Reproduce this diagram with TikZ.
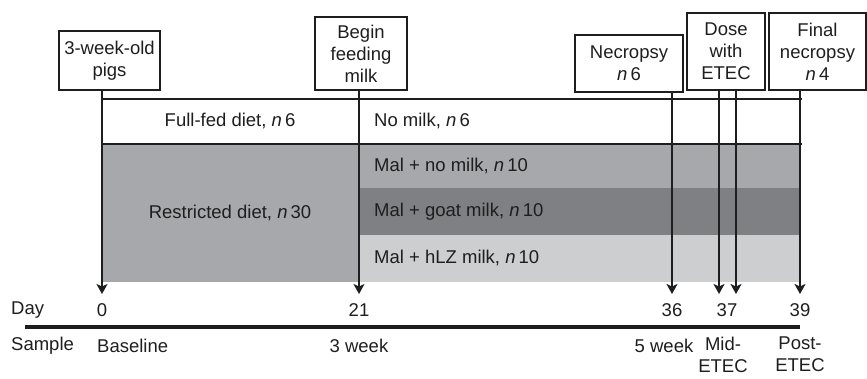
\documentclass[tikz,border=0pt]{standalone}
\usepackage{fontspec}
\setmainfont{Liberation Sans}
\usetikzlibrary{arrows.meta,positioning}
\definecolor{restrgray}{HTML}{A7A8AC}
\definecolor{goatgray}{HTML}{7F8083}
\definecolor{hlzgray}{HTML}{CDCED0}
\definecolor{inkgray}{HTML}{1E1E1E}

\begin{document}
\begin{tikzpicture}[x=1pt,y=-1pt,line join=miter,
  every node/.style={font=\fontsize{18.5}{22}\selectfont,text=inkgray,inner sep=0pt},
  eventbox/.style={draw=inkgray,line width=1.3pt,align=center},
  timearrow/.style={draw=inkgray,line width=2.4pt,-{Stealth[length=10pt,width=11pt,inset=2.5pt]}},
  rowline/.style={draw=inkgray,line width=1.4pt}]
\useasboundingbox (0,0) rectangle (867,378);

% groups
\fill[restrgray] (102,144) rectangle (800,188);
\fill[restrgray] (102,188) rectangle (359,282);
\fill[goatgray] (359,188) rectangle (800,235);
\fill[hlzgray] (359,235) rectangle (800,282);
\draw[rowline] (102,99) -- (802,99);
\draw[rowline] (102,144) -- (802,144);

\node (fullfed) at (230,121) {Full-fed diet, \textit{n}\,6};
\node (restr) at (230,213) {Restricted diet, \textit{n}\,30};
\node[anchor=west] (nomilk) at (374,121) {No milk, \textit{n}\,6};
\node[anchor=west] (malno) at (374,166) {Mal + no milk, \textit{n}\,10};
\node[anchor=west] (malgoat) at (374,212) {Mal + goat milk, \textit{n}\,10};
\node[anchor=west] (malhlz) at (374,258) {Mal + hLZ milk, \textit{n}\,10};

% events
\node[eventbox,minimum width=101pt,minimum height=59pt] (pigs) at (109.5,60.5) {3-week-old\\pigs};
\node[eventbox,minimum width=92pt,minimum height=73pt] (begin) at (361,53.5) {Begin\\feeding\\milk};
\node[eventbox,minimum width=108pt,minimum height=57pt] (necro) at (629,63.5) {Necropsy\\\textit{n}\,6};
\node[eventbox,minimum width=78pt,minimum height=77pt] (dose) at (726,51.5) {Dose\\with\\ETEC};
\node[eventbox,minimum width=97pt,minimum height=77pt] (final) at (817.5,51.5) {Final\\necropsy\\\textit{n}\,4};

\coordinate (d0) at (102,294);
\coordinate (d21) at (359,294);
\coordinate (d36) at (672,294);
\coordinate (d37a) at (719,294);
\coordinate (d37b) at (736,294);
\coordinate (d39) at (800,294);
\draw[timearrow] (pigs.south -| d0) -- (d0);
\draw[timearrow] (begin.south -| d21) -- (d21);
\draw[timearrow] (necro.south -| d36) -- (d36);
\draw[timearrow] (dose.south -| d37a) -- (d37a);
\draw[timearrow] (dose.south -| d37b) -- (d37b);
\draw[timearrow] (final.south -| d39) -- (d39);

% time line
\node[anchor=west] (day) at (11,310) {Day};
\foreach \d/\x in {0/102,21/359,36/672,37/727,39/800}
  \node (day\d) at (\x,310) {\d};
\coordinate (tl) at (25,327);
\coordinate (tr) at (800,327);
\draw[draw=inkgray,line width=4pt] (tl) -- (tr);

\node[anchor=west] (sample) at (11,346) {Sample};
\node[anchor=west] (base) at (97,346) {Baseline};
\node (wk3) at (359,346) {3 week};
\node (wk5) at (664,346) {5 week};
\node[anchor=north,align=center] (mid) at (723,337) {Mid-\\ETEC};
\node[anchor=north,align=center] (post) at (800,337) {Post-\\ETEC};
\end{tikzpicture}
\end{document}
